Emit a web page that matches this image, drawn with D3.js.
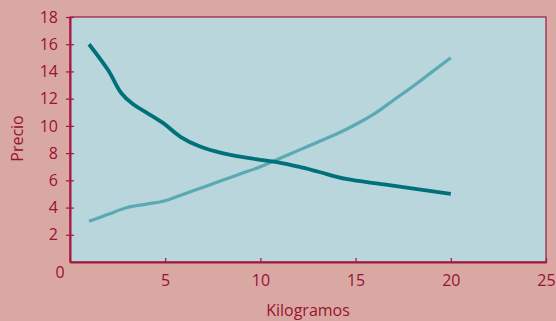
<!DOCTYPE html>
<html><head><meta charset="utf-8">
<script src="https://cdn.jsdelivr.net/npm/d3@7"></script>
<style>body{margin:0;background:#d9a8a3;}svg{display:block;}</style>
</head><body>
<script>
const xTicks = [5, 10, 15, 20, 25];
const yTicks = [2, 4, 6, 8, 10, 12, 14, 16, 18];
const demandX = [1, 2, 2.7, 3.3, 4, 4.9, 5.8, 6.8, 8, 10, 11, 12, 13, 14.5, 16.5, 20];
const demandY = [16, 14.1, 12.4, 11.6, 11, 10.2, 9.2, 8.5, 8, 7.5, 7.3, 7, 6.65, 6.1, 5.7, 5];
const supplyX = [1, 2, 3, 4, 5, 6, 7, 8, 9, 10, 11, 12, 13, 14, 15, 16, 17, 18, 19, 20];
const supplyY = [3, 3.5, 4, 4.25, 4.5, 5, 5.5, 6, 6.5, 7, 7.6, 8.2, 8.8, 9.4, 10.1, 10.9, 11.9, 12.9, 13.95, 15];

const W = 556, H = 321;
const m = {l: 70, t: 17, r: 10, b: 59};
const axisColor = "#a3173d", textColor = "#9b1132";
const svg = d3.select("body").append("svg").attr("width", W).attr("height", H);
svg.append("rect").attr("width", W).attr("height", H).attr("fill", "#d9a8a3");

const x = d3.scaleLinear().domain([0, 25]).range([m.l, W - m.r]);
const y = d3.scaleLinear().domain([0, 18]).range([H - m.b, m.t]);

svg.append("rect").attr("x", x(0)).attr("y", y(18)).attr("width", x(25) - x(0)).attr("height", y(0) - y(18))
  .attr("fill", "#b9d6dc").attr("stroke", axisColor).attr("stroke-width", 1.2);

const font = "'Open Sans', 'DejaVu Sans', sans-serif";

// x axis
const xa = svg.append("g").attr("transform", `translate(0,${y(0)})`)
  .call(d3.axisBottom(x).tickValues(xTicks).tickSize(0).tickPadding(0));
xa.select(".domain").attr("stroke", axisColor).attr("stroke-width", 2);
xa.selectAll(".tick line").remove();
xa.selectAll(".tick").append("line").attr("y1", -4).attr("y2", 1).attr("stroke", axisColor).attr("stroke-width", 1.2);
xa.selectAll(".tick text").attr("y", 18).attr("dy", "0.35em").attr("fill", textColor)
  .style("font-family", font).style("font-size", "16px");

// y axis
const ya = svg.append("g").attr("transform", `translate(${x(0)},0)`)
  .call(d3.axisLeft(y).tickValues(yTicks).tickSize(0).tickPadding(0));
ya.select(".domain").attr("stroke", axisColor).attr("stroke-width", 2);
ya.selectAll(".tick line").remove();
ya.selectAll(".tick").append("line").attr("x1", -4).attr("x2", 4).attr("stroke", axisColor).attr("stroke-width", 1.2);
ya.selectAll(".tick text").attr("x", -12).attr("fill", textColor)
  .style("font-family", font).style("font-size", "16px");

svg.append("text").attr("x", x(0) - 10).attr("y", y(0) + 16).attr("text-anchor", "middle")
  .attr("fill", textColor).style("font-family", font).style("font-size", "16px").text("0");

svg.append("text").attr("x", x(12.5)).attr("y", H - 5).attr("text-anchor", "middle")
  .attr("fill", textColor).style("font-family", font).style("font-size", "16px").text("Kilogramos");
svg.append("text").attr("transform", `translate(23,${(y(0) + y(18)) / 2 - 1}) rotate(-90)`).attr("text-anchor", "middle")
  .attr("fill", textColor).style("font-family", font).style("font-size", "16px").text("Precio");

const line = d3.line().x(d => x(d[0])).y(d => y(d[1])).curve(d3.curveCatmullRom.alpha(0.5));
svg.append("path").datum(supplyX.map((v, i) => [v, supplyY[i]])).attr("d", line)
  .attr("fill", "none").attr("stroke", "#5aa9b3").attr("stroke-width", 3.2);
svg.append("path").datum(demandX.map((v, i) => [v, demandY[i]])).attr("d", line)
  .attr("fill", "none").attr("stroke", "#00707a").attr("stroke-width", 3.8);
</script>
</body></html>
